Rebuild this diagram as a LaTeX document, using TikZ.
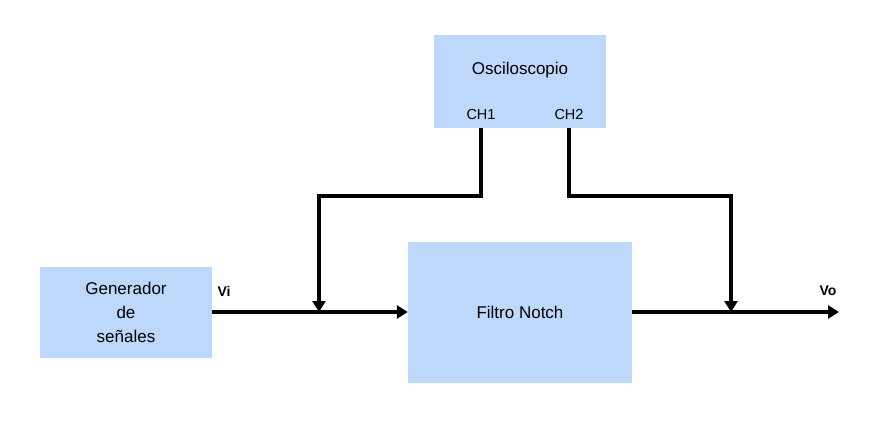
\documentclass[tikz,border=0pt]{standalone}
\usepackage{fontspec}
\setmainfont{Liberation Sans}
\usetikzlibrary{arrows.meta, positioning}
\definecolor{boxblue}{RGB}{190, 216, 251}

\begin{document}
\begin{tikzpicture}[x=1pt, y=-1pt, > = {Triangle[width=13pt,length=11pt]},
	block/.style={fill=boxblue, draw=none, inner sep=0pt, align=center, font=\fontsize{17}{24}\selectfont},
	port/.style={font=\fontsize{14.5}{16}\selectfont},
	sig/.style={font=\bfseries\fontsize{14}{16}\selectfont},
	wire/.style={line width=3.4pt}]
	\useasboundingbox (0,0) rectangle (880,430);

	% blocks
	\node[block, minimum width=172pt, minimum height=91pt] (gen) at (126,312.5) {Generador\\de\\se\~nales};
	\node[block, minimum width=224pt, minimum height=141pt] (filt) at (520,312.5) {Filtro Notch};
	\node[block, minimum width=172pt, minimum height=93pt] (osc) at (520,81.5) {};
	\node[block] (title) at (520,70.5) {Osciloscopio};
	\node[port] (ch1) at (481,115) {CH1};
	\node[port] (ch2) at (569,115) {CH2};

	% signal labels
	\node[sig] (vi) at (224,291) {Vi};
	\node[sig] (vo) at (828,291) {Vo};

	\coordinate (p1) at (481,128);
	\coordinate (p2) at (569,128);
	\coordinate (j1) at (319,312);
	\coordinate (j2) at (731,312);
	\coordinate (out) at (839,312);

	% signal path
	\draw[->,wire] (gen.east |- j1) -- (filt.west |- j1);
	\draw[->,wire] (filt.east |- j2) -- (out);

	% probes
	\draw[->,wire] (p1) -- ++(0,68) -| (j1);
	\draw[->,wire] (p2) -- ++(0,68) -| (j2);
\end{tikzpicture}
\end{document}
